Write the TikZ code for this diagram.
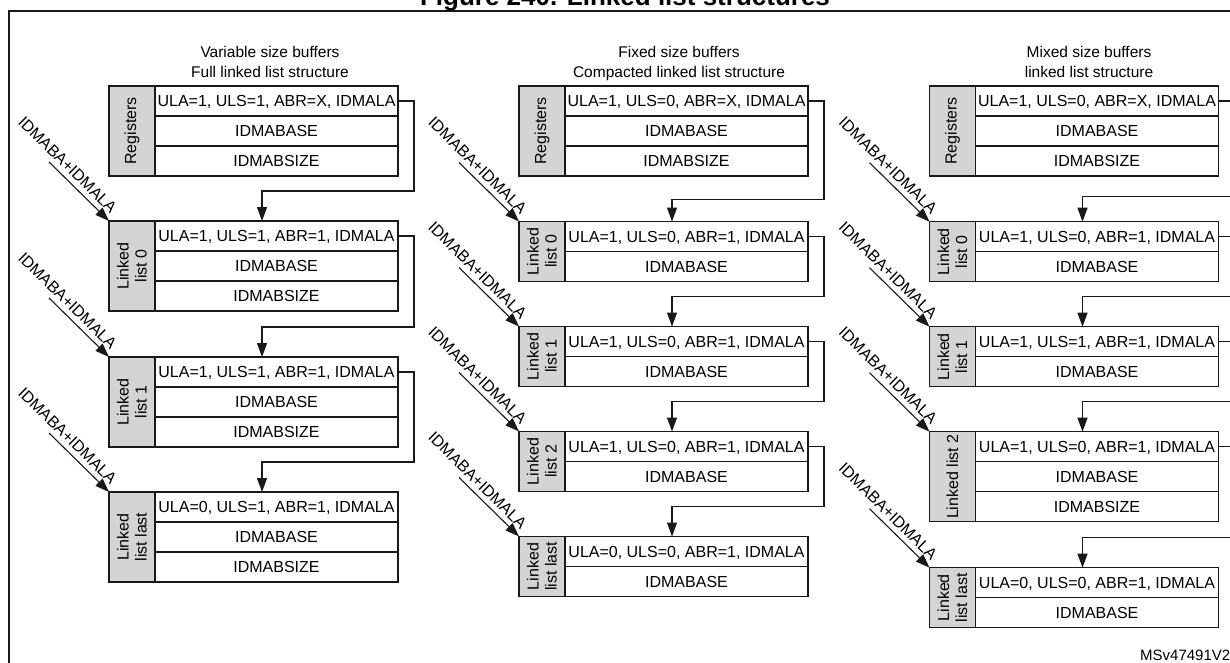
\documentclass[tikz,border=0pt]{standalone}
\usepackage{fontspec}
\setmainfont{Liberation Sans}
\usetikzlibrary{arrows.meta,calc}
\definecolor{lblgray}{RGB}{212,212,212}
\definecolor{ink}{RGB}{25,25,25}
\tikzset{
 cell/.style={draw=ink, line width=1.1pt, minimum width=243pt, minimum height=30pt, inner sep=0pt, outer sep=0pt, text height=11.5pt, text depth=0pt, font=\fontsize{16}{18}\selectfont},
 graybox/.style={draw=ink, fill=lblgray, line width=1.1pt, minimum width=46pt, inner sep=0pt, outer sep=0pt},
 vlabel/.style={rotate=90, align=center, inner sep=0pt, font=\fontsize{16}{18}\selectfont},
 conn/.style={draw=ink, line width=1.1pt, -{Triangle[length=14pt,width=10pt]}},
 diaglbl/.style={sloped, pos=0.18, above=5pt, inner sep=0pt, text height=11.5pt, text depth=0pt, font=\fontsize{16}{18}\selectfont},
 hdr/.style={anchor=base, inner sep=0pt, font=\fontsize{15.5}{18}\selectfont},
}
\newcommand\mkblockii[6]{%
 \node[graybox, minimum height=60pt, anchor=north west] (#1g) at (#2,#3) {};
 \node[vlabel] (#1t) at (#1g.center) {#4};
 \node[cell, anchor=north west] (#1a) at (#1g.north east) {#5};
 \node[cell, anchor=north west] (#1b) at (#1a.south west) {#6};
}
\newcommand\mkblockiii[7]{%
 \node[graybox, minimum height=90pt, anchor=north west] (#1g) at (#2,#3) {};
 \node[vlabel] (#1t) at (#1g.center) {#4};
 \node[cell, anchor=north west] (#1a) at (#1g.north east) {#5};
 \node[cell, anchor=north west] (#1b) at (#1a.south west) {#6};
 \node[cell, anchor=north west] (#1c) at (#1b.south west) {#7};
}
% #1 source cell, #2 target block, #3 rise
\newcommand\mklink[3]{%
 \coordinate (#2in) at ($(#2a.north west)+(107,0)$);
 \draw[conn] (#1.east) -- ++(16,0) |- ($(#2in)+(0,-#3)$) -- (#2in);
 \coordinate (#2ds) at ($(#2g.north west)+(-60,-59)$);
 \draw[conn] (#2ds) -- node[diaglbl] (#2dl) {IDMABA+IDMALA} (#2g.north west);
}
\begin{document}
\begin{tikzpicture}[x=1pt,y=-1pt]
\useasboundingbox (0,0) rectangle (1230,663);
\fill[white] (0,0) rectangle (1230,663);
% frame and title
\draw[ink, line width=2pt] (9,700) -- (9,11) -- (1260,11);
\node[anchor=base, inner sep=0pt, font=\fontsize{26}{26}\selectfont\bfseries] (title) at (625,6) {Figure 240. Linked list structures};
\node[anchor=base west, inner sep=0pt, font=\fontsize{15}{15}\selectfont] (ms) at (1140,660) {MSv47491V2};
% headers
\node[hdr] (h1a) at (270,58) {Variable size buffers};
\node[hdr] (h1b) at (270,78) {Full linked list structure};
\node[hdr] (h2a) at (679,58) {Fixed size buffers};
\node[hdr] (h2b) at (679,78) {Compacted linked list structure};
\node[hdr] (h3a) at (1089,58) {Mixed size buffers};
\node[hdr] (h3b) at (1089,78) {linked list structure};
% column 1
\mkblockiii{R1}{109}{86}{Registers}{ULA=1, ULS=1, ABR=X, IDMALA}{IDMABASE}{IDMABSIZE}
\mkblockiii{A0}{109}{221}{Linked\\list 0}{ULA=1, ULS=1, ABR=1, IDMALA}{IDMABASE}{IDMABSIZE}
\mkblockiii{A1}{109}{357}{Linked\\list 1}{ULA=1, ULS=1, ABR=1, IDMALA}{IDMABASE}{IDMABSIZE}
\mkblockiii{A2}{109}{492}{Linked\\list last}{ULA=0, ULS=1, ABR=1, IDMALA}{IDMABASE}{IDMABSIZE}
\mklink{R1a}{A0}{30}
\mklink{A0a}{A1}{30}
\mklink{A1a}{A2}{30}
% column 2
\mkblockiii{R2}{519}{86}{Registers}{ULA=1, ULS=0, ABR=X, IDMALA}{IDMABASE}{IDMABSIZE}
\mkblockii{B0}{519}{221.5}{Linked\\list 0}{ULA=1, ULS=0, ABR=1, IDMALA}{IDMABASE}
\mkblockii{B1}{519}{326.5}{Linked\\list 1}{ULA=1, ULS=0, ABR=1, IDMALA}{IDMABASE}
\mkblockii{B2}{519}{431.5}{Linked\\list 2}{ULA=1, ULS=0, ABR=1, IDMALA}{IDMABASE}
\mkblockii{B3}{519}{536.5}{Linked\\list last}{ULA=0, ULS=0, ABR=1, IDMALA}{IDMABASE}
\mklink{R2a}{B0}{22}
\mklink{B0a}{B1}{30}
\mklink{B1a}{B2}{30}
\mklink{B2a}{B3}{30}
% column 3
\mkblockiii{R3}{929.5}{86}{Registers}{ULA=1, ULS=0, ABR=X, IDMALA}{IDMABASE}{IDMABSIZE}
\mkblockii{C0}{929.5}{221.7}{Linked\\list 0}{ULA=1, ULS=0, ABR=1, IDMALA}{IDMABASE}
\mkblockii{C1}{929.5}{326.7}{Linked\\list 1}{ULA=1, ULS=1, ABR=1, IDMALA}{IDMABASE}
\mkblockiii{C2}{929.5}{431.7}{Linked list 2}{ULA=1, ULS=0, ABR=1, IDMALA}{IDMABASE}{IDMABSIZE}
\mkblockii{C3}{929.5}{567.7}{Linked\\list last}{ULA=0, ULS=0, ABR=1, IDMALA}{IDMABASE}
\mklink{R3a}{C0}{25}
\mklink{C0a}{C1}{30}
\mklink{C1a}{C2}{30}
\mklink{C2a}{C3}{30}
\end{tikzpicture}
\end{document}
